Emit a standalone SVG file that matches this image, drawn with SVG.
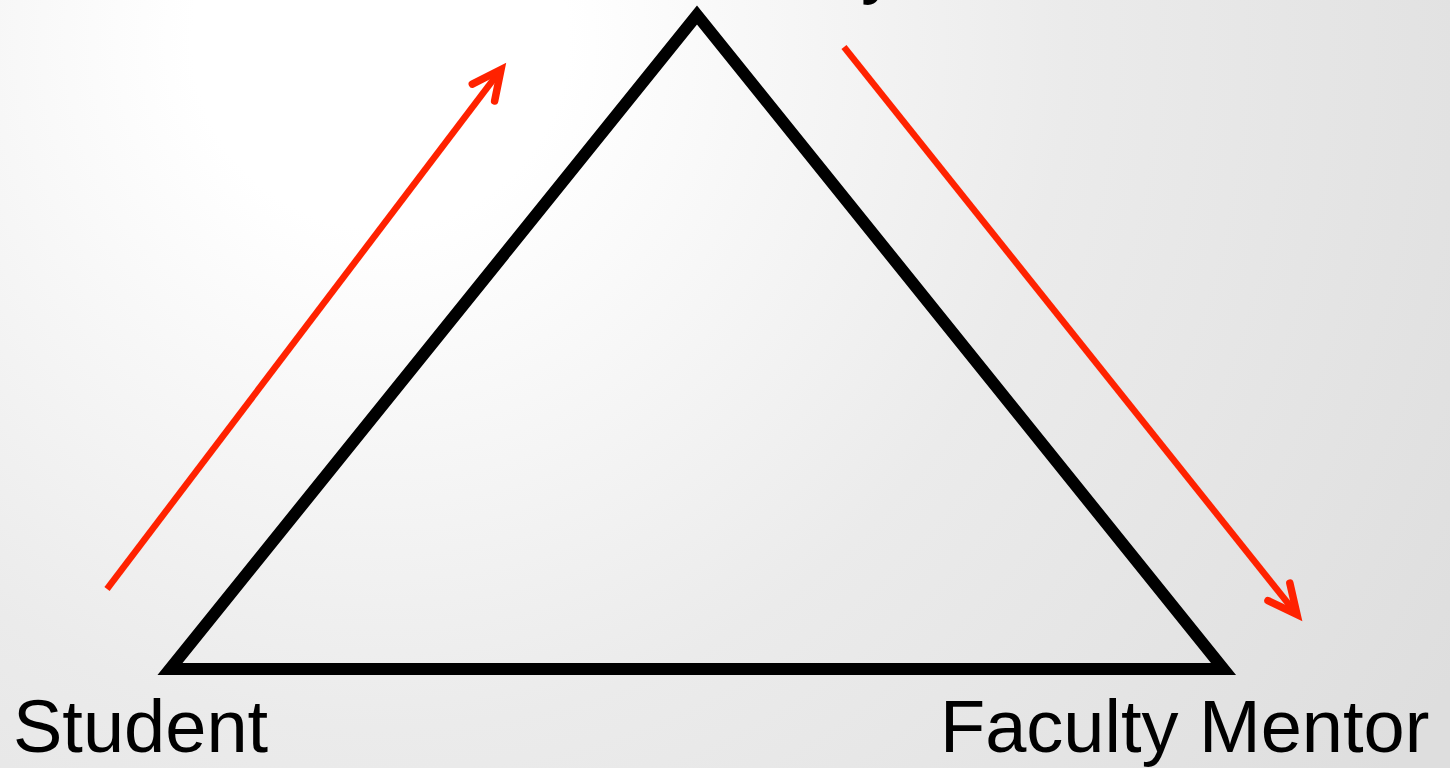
<svg xmlns="http://www.w3.org/2000/svg" width="1450" height="768" viewBox="0 0 1450 768">
  <defs>
    <radialGradient id="bg" gradientUnits="userSpaceOnUse" cx="380" cy="40" r="1250">
      <stop offset="0" stop-color="#ffffff"/>
      <stop offset="0.15" stop-color="#ffffff"/>
      <stop offset="0.55" stop-color="#ebebeb"/>
      <stop offset="1" stop-color="#dedede"/>
    </radialGradient>
    <marker id="chev" markerUnits="userSpaceOnUse" markerWidth="60" markerHeight="60" refX="0" refY="0" viewBox="-40 -30 60 60" orient="auto" overflow="visible">
      <path d="M -29 -14 L 0 0 L -29 14" fill="none" stroke="#ff2200" stroke-width="7.5" stroke-linejoin="miter" stroke-linecap="round"/>
    </marker>
  </defs>
  <style>
    .lbl { font-family: "Liberation Sans", Arial, sans-serif; font-size: 74px; fill: #000000; }
    .tri { fill: none; stroke: #000000; stroke-width: 12; stroke-linejoin: miter; stroke-miterlimit: 10; }
    .arr { fill: none; stroke: #ff2200; stroke-width: 6.5; stroke-linecap: butt; marker-end: url(#chev); }
  </style>
  <rect x="0" y="0" width="1450" height="768" fill="url(#bg)"/>
  <g id="triangle">
    <polygon class="tri" points="697,15 170,669 1223.5,669"/>
  </g>
  <g id="connectors">
    <line class="arr" x1="107" y1="589" x2="501" y2="69.5"/>
    <line class="arr" x1="844" y1="47" x2="1297" y2="614.5"/>
  </g>
  <g id="node-top">
    <text class="lbl" x="898" y="-10" text-anchor="end">Community</text>
  </g>
  <g id="node-student">
    <text class="lbl" x="13" y="752">Student</text>
  </g>
  <g id="node-faculty">
    <text class="lbl" x="940" y="752">Faculty Mentor</text>
  </g>
</svg>
